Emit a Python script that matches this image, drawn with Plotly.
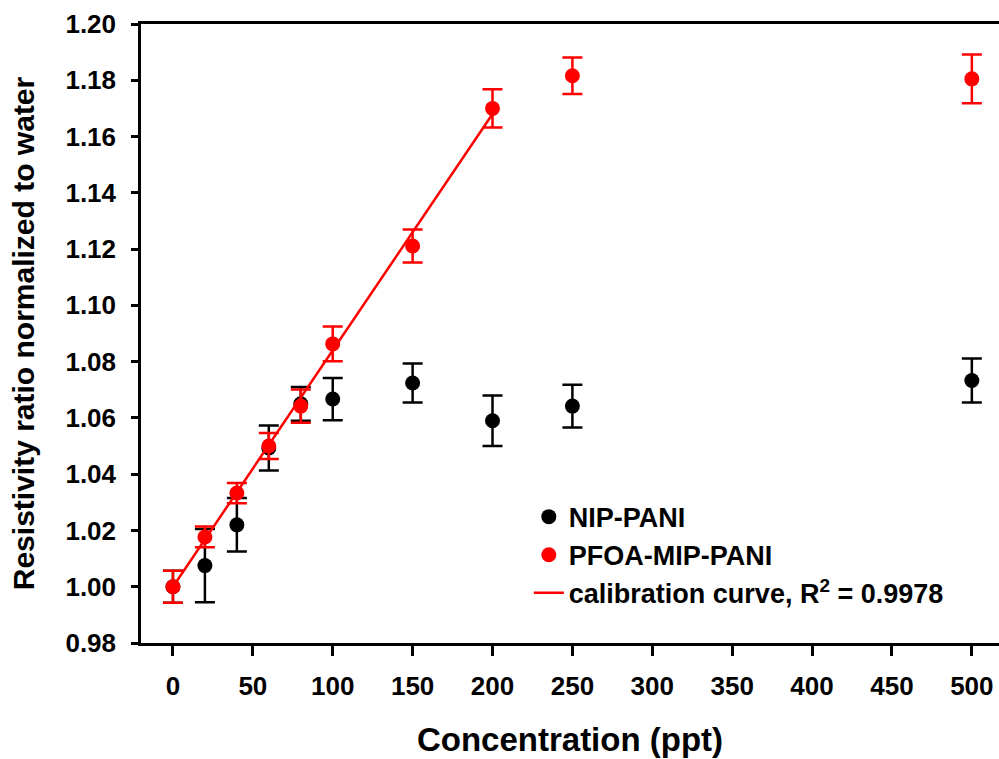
import plotly.graph_objects as go

# Concentrations (ppt)
conc = [0, 20, 40, 60, 80, 100, 150, 200, 250, 500]

# NIP-PANI
nip_y = [1.000, 1.0075, 1.0220, 1.0493, 1.0650, 1.0667, 1.0724, 1.0590, 1.0642, 1.0733]
nip_err = [0.0057, 0.0130, 0.0095, 0.0080, 0.0060, 0.0075, 0.0069, 0.0090, 0.0076, 0.0078]

# PFOA-MIP-PANI
mip_y = [1.000, 1.0177, 1.0333, 1.0500, 1.0642, 1.0863, 1.1211, 1.1700, 1.1816, 1.1805]
mip_err = [0.0057, 0.0037, 0.0036, 0.0046, 0.0059, 0.0062, 0.0059, 0.0068, 0.0065, 0.0087]

# Calibration curve endpoints
cal_x = [0, 200]
cal_y = [1.000, 1.168]

x_ticks = [0, 50, 100, 150, 200, 250, 300, 350, 400, 450, 500]
y_ticks = [0.98, 1.00, 1.02, 1.04, 1.06, 1.08, 1.10, 1.12, 1.14, 1.16, 1.18, 1.20]

FONT = "Liberation Sans, Arial, sans-serif"

fig = go.Figure()
fig.add_trace(go.Scatter(
    x=conc, y=nip_y, mode="markers", name="NIP-PANI",
    marker=dict(color="black", size=15),
    error_y=dict(type="data", array=nip_err, color="black", thickness=2.5, width=10),
))
fig.add_trace(go.Scatter(
    x=conc, y=mip_y, mode="markers", name="PFOA-MIP-PANI",
    marker=dict(color="#ff0000", size=15),
    error_y=dict(type="data", array=mip_err, color="#ff0000", thickness=2.5, width=10),
))
fig.add_trace(go.Scatter(
    x=cal_x, y=cal_y, mode="lines", name="calibration curve, R<sup>2</sup> = 0.9978",
    line=dict(color="#ff0000", width=2.5),
))

fig.update_layout(
    width=999, height=759,
    margin=dict(l=141, r=0, t=24, b=116),
    paper_bgcolor="white", plot_bgcolor="white",
    font=dict(family=FONT, size=26, color="black", weight="bold"),
    showlegend=True,
    legend=dict(
        x=0.452, y=0.243, xanchor="left", yanchor="top",
        bgcolor="rgba(0,0,0,0)", font=dict(size=27, family=FONT, weight="bold"),
        tracegroupgap=0,
    ),
)
fig.update_xaxes(
    range=[-20, 517], tickvals=x_ticks, ticktext=[str(v) for v in x_ticks],
    showgrid=False, zeroline=False,
    showline=True, linecolor="black", linewidth=2.5, mirror=True,
    ticks="outside", ticklen=10, tickwidth=2.5, tickcolor="black",
    tickfont=dict(size=26, family=FONT, weight="bold"),
    ticklabelstandoff=8,
    title=dict(text="Concentration (ppt)", font=dict(size=33, family=FONT, weight="bold"), standoff=28),
)
fig.update_yaxes(
    range=[0.98, 1.20], tickvals=y_ticks, ticktext=["%.2f" % v for v in y_ticks],
    showgrid=False, zeroline=False,
    showline=True, linecolor="black", linewidth=2.5, mirror=False,
    ticks="outside", ticklen=7, tickwidth=2.5, tickcolor="black",
    tickfont=dict(size=26, family=FONT, weight="bold"),
    ticklabelstandoff=10,
    title=dict(text="Resistivity ratio normalized to water", font=dict(size=30, family=FONT, weight="bold"), standoff=22),
)

fig.write_html("out.html")
